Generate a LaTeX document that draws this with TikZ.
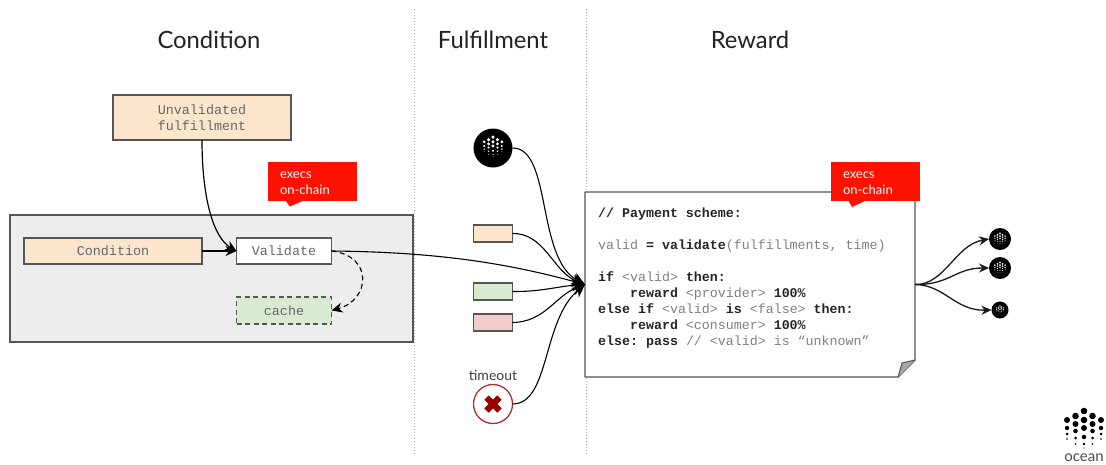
\documentclass[tikz,border=0pt]{standalone}
\usepackage{fontspec}
\setmainfont{Lato}
\setmonofont{Liberation Mono}
\usetikzlibrary{arrows.meta}
\definecolor{edgeg}{HTML}{555555}
\definecolor{peach}{HTML}{FCE5CD}
\definecolor{mint}{HTML}{D9EAD3}
\definecolor{rosy}{HTML}{F4CCCC}
\definecolor{panel}{HTML}{EDEDED}
\definecolor{codeg}{HTML}{808080}
\definecolor{titlec}{HTML}{222222}
\definecolor{xred}{HTML}{990000}
\definecolor{ringred}{HTML}{B03030}
\definecolor{tagred}{HTML}{FF1100}
\newcommand{\oceandots}[4]{%
  \begin{scope}[shift={(#1,#2)},scale=#3]
    \foreach \px/\py/\pr in {0/-17/3.3,0/-8/3.3,0/0/3.0,0/9/2.2,0/16/1.3,0/20/.7,
      8.5/-12/3.3,8.5/-4/3.0,8.5/3/2.3,8.5/10/1.5,8.5/16/.8,
      -8.5/-12/3.3,-8.5/-4/3.0,-8.5/3/2.3,-8.5/10/1.5,-8.5/16/.8,
      17/-8/3.0,17/0/2.2,17/6/1.5,17/11/.8,
      -17/-8/3.0,-17/0/2.2,-17/6/1.5,-17/11/.8}
      \fill[#4] (\px,\py) circle[radius=\pr];
  \end{scope}}
\tikzset{
  x=1pt,y=-1pt,
  titletext/.style={font=\fontsize{23.8}{28}\selectfont,text=titlec,inner sep=0pt},
  divider/.style={line width=1pt,draw=gray!70,dash pattern=on 1pt off 2pt},
  codebox/.style={draw=edgeg,line width=1.4pt,inner sep=0pt,outer sep=0pt,align=center,
    font=\fontsize{13.4}{16}\selectfont\ttfamily,text=codeg!80!black},
  swatch/.style={draw=edgeg,line width=1.2pt,inner sep=0pt,outer sep=0pt,minimum width=39pt,minimum height=17pt},
  tag/.style={fill=tagred,inner sep=0pt,outer sep=0pt,minimum width=89pt,minimum height=39pt},
  tagtext/.style={text=white,inner sep=0pt,outer sep=0pt,anchor=base west,font=\fontsize{13}{16}\selectfont},
  flow/.style={draw=black,line width=1.2pt,-{Stealth[length=11pt,width=10pt]}},
  merge/.style={draw=black,line width=1.1pt,-{Stealth[length=13pt,width=12pt,inset=4pt]}},
  fan/.style={draw=black!90,line width=1.3pt,-{Stealth[length=10pt,width=9pt]}},
  badge/.style={circle,fill=black,inner sep=0pt,outer sep=0pt},
  longdash/.style={dash pattern=on 5pt off 3.5pt},
}
\newcommand{\cg}[1]{\textcolor{codeg}{#1}}
\begin{document}
\begin{tikzpicture}
\useasboundingbox (0,0) rectangle (1106,464);
\fill[white] (0,0) rectangle (1106,464);
% dividers
\coordinate (d1t) at (414,9); \coordinate (d1b) at (414,456);
\coordinate (d2t) at (586,9); \coordinate (d2b) at (586,456);
\draw[divider] (d1t) -- (d1b);
\draw[divider] (d2t) -- (d2b);
% titles
\node[titletext] (t1) at (209,40) {Condition};
\node[titletext] (t2) at (493,40) {Fulfillment};
\node[titletext] (t3) at (750,40) {Reward};
% panel
\node[draw=edgeg,fill=panel,line width=1.4pt,minimum width=403pt,minimum height=127pt,inner sep=0pt] (panel) at (211.5,278.5) {};
\node[codebox,fill=peach,minimum width=178pt,minimum height=45pt] (unval) at (202,117.5) {Unvalidated\\fulfillment};
\node[codebox,fill=peach,minimum width=178pt,minimum height=26pt] (cond) at (113,251) {Condition};
\node[codebox,fill=white,minimum width=95pt,minimum height=26pt] (valid) at (284,251) {Validate};
\node[codebox,fill=mint,longdash,minimum width=95pt,minimum height=27pt] (cache) at (284,310.5) {cache};
% callout 1
\fill[tagred] (285,200) -- (290,206.5) -- (305,200) -- cycle;
\node[tag] (tagA) at (312.5,181.5) {};
\node[tagtext] (tagA1) at (280,178) {execs};
\node[tagtext] (tagA2) at (280,194) {on-chain};
% fulfillment items
\node[badge,minimum size=39pt] (prov) at (493,148) {};
\oceandots{493}{146}{0.52}{white}
\node[swatch,fill=peach] (sa) at (493,233.5) {};
\node[swatch,fill=mint] (sb) at (493,291.5) {};
\node[swatch,fill=rosy] (sc) at (493,322.5) {};
\node[font=\fontsize{14}{16}\selectfont,text=black!75,inner sep=0pt] (tolab) at (493,375) {timeout};
\node[circle,draw=ringred,fill=white,line width=1.3pt,minimum size=39pt,inner sep=0pt,outer sep=0pt] (tout) at (493,404) {};
\draw[xred,line width=6.2pt] (486.5,397.5) -- (499.5,410.5);
\draw[xred,line width=6.2pt] (499.5,397.5) -- (486.5,410.5);
% card
\node[inner sep=0pt,outer sep=0pt,minimum width=330pt,minimum height=185pt] (card) at (750,284.5) {};
\draw[draw=edgeg,fill=white,line width=1.4pt,line join=round] (585,192) -- (915,192) -- (915,360) -- (898,377) -- (585,377) -- cycle;
\fill[gray!70] (898,377) -- (915,360) -- (902,363) -- cycle;
\draw[edgeg,line width=1pt] (898,377) -- (902,363) -- (915,360);
\node[anchor=north west,inner sep=0pt,align=left,text=black!85,font=\fontsize{13.3}{16}\selectfont\ttfamily] (code) at (598,207.5) {%
\textbf{// Payment scheme:}\\
\mbox{}\\
\cg{valid} \textbf{= validate}\cg{(fulfillments, time)}\\
\mbox{}\\
\textbf{if} \cg{<valid>} \textbf{then:}\\
\hspace*{31.9pt}\textbf{reward} \cg{<provider>} \textbf{100\%}\\
\textbf{else if} \cg{<valid>} \textbf{is} \cg{<false>} \textbf{then:}\\
\hspace*{31.9pt}\textbf{reward} \cg{<consumer>} \textbf{100\%}\\
\textbf{else:} \textbf{pass} \cg{// <valid> is “unknown”}};
% callout 2
\fill[tagred] (848,200) -- (852,207) -- (867,200) -- cycle;
\node[tag] (tagB) at (875.5,181.5) {};
\node[tagtext] (tagB1) at (843,178) {execs};
\node[tagtext] (tagB2) at (843,194) {on-chain};
% outputs
\node[badge,minimum size=22pt] (oa) at (1000,239) {};
\oceandots{1000}{238.5}{0.3}{white}
\node[badge,minimum size=22pt] (ob) at (1000,268) {};
\oceandots{1000}{267.5}{0.3}{white}
\node[badge,minimum size=17pt] (oc) at (1000,310) {};
\oceandots{1000}{309.5}{0.2}{white}
% connectors
\draw[flow] (unval.south) .. controls (202,200) and (214,238) .. (valid.west);
\draw[flow] (cond.east) -- (valid.west);
\draw[draw=black,line width=1.1pt,longdash,-{Stealth[length=11pt,width=10pt]}] (valid.east) .. controls (374,256) and (370,300) .. (cache.east);
\draw[merge] (valid.east) .. controls (440,252) and (510,264) .. (card.west);
\draw[merge] (prov.east) .. controls (552,148) and (536,258) .. (card.west);
\draw[merge] (sa.east) .. controls (545,233) and (553,272) .. (card.west);
\draw[merge] (sb.east) .. controls (540,292) and (560,286) .. (card.west);
\draw[merge] (sc.east) .. controls (545,322) and (555,296) .. (card.west);
\draw[merge] (tout.east) .. controls (550,404) and (542,320) .. (card.west);
\draw[fan] (card.east) .. controls (945,285) and (955,245) .. (oa.west);
\draw[fan] (card.east) .. controls (950,285) and (955,268) .. (ob.west);
\draw[fan] (card.east) .. controls (945,285) and (955,311) .. (oc.west);
% brand logo
\oceandots{1084}{428}{1}{black}
\node[font=\fontsize{15}{16}\selectfont,text=black!70,inner sep=0pt] (brand) at (1084,457.5) {ocean};
\end{tikzpicture}
\end{document}
